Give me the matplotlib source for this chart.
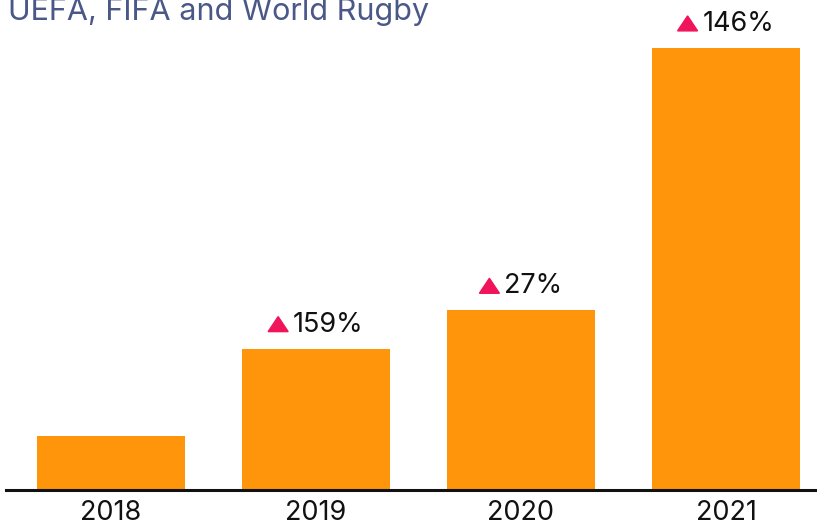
import matplotlib
matplotlib.use("Agg")
import matplotlib.pyplot as plt
from matplotlib.offsetbox import TextArea, DrawingArea, HPacker, AnnotationBbox
from matplotlib.patches import Polygon

years = ["2018", "2019", "2020", "2021"]
values = [5.4, 14.0, 17.8, 43.8]
changes = [None, "159%", "27%", "146%"]
title_text = "UEFA, FIFA and World Rugby"

BAR = "#ff950a"
RED = "#f0145a"
W, H = 817, 525

plt.rcParams["font.family"] = ["Inter", "DejaVu Sans"]
fig = plt.figure(figsize=(W / 100, H / 100), dpi=100)
ax = fig.add_axes([6 / W, (H - 490) / H, 811 / W, (490 - 48) / H])

x = list(range(len(years)))
ax.bar(x, values, width=148 / 205, color=BAR, zorder=2)
ax.set_xlim(-0.512, -0.512 + 811 / 205)
ax.set_ylim(0, values[-1])
for s in ["top", "right", "left"]:
    ax.spines[s].set_visible(False)
ax.spines["bottom"].set_linewidth(2.2)
ax.spines["bottom"].set_color("#111111")
ax.set_yticks([])
ax.set_xticks(x)
ax.set_xticklabels(years, fontsize=19.5, color="#111111")
ax.tick_params(axis="x", length=0, pad=7)

for xi, v, c in zip(x, values, changes):
    if c is None:
        continue
    da = DrawingArea(14.4, 10.8, 0, 0)
    da.add_artist(Polygon([[0, 0], [14.4, 0], [7.2, 10.8]], closed=True, color=RED))
    ta = TextArea(c, textprops=dict(fontsize=19.5, color="#111111"))
    pack = HPacker(children=[da, ta], align="baseline", pad=0, sep=3.6)
    ab = AnnotationBbox(pack, (xi, v), xybox=(0, 8), xycoords="data",
                        boxcoords="offset points", box_alignment=(0.5, 0),
                        frameon=False, annotation_clip=False)
    ax.add_artist(ab)

fig.text(8 / W, 1 - 20 / H, title_text, fontsize=22, color="#4a5888",
         ha="left", va="baseline")

fig.savefig("out.png", dpi=100)
